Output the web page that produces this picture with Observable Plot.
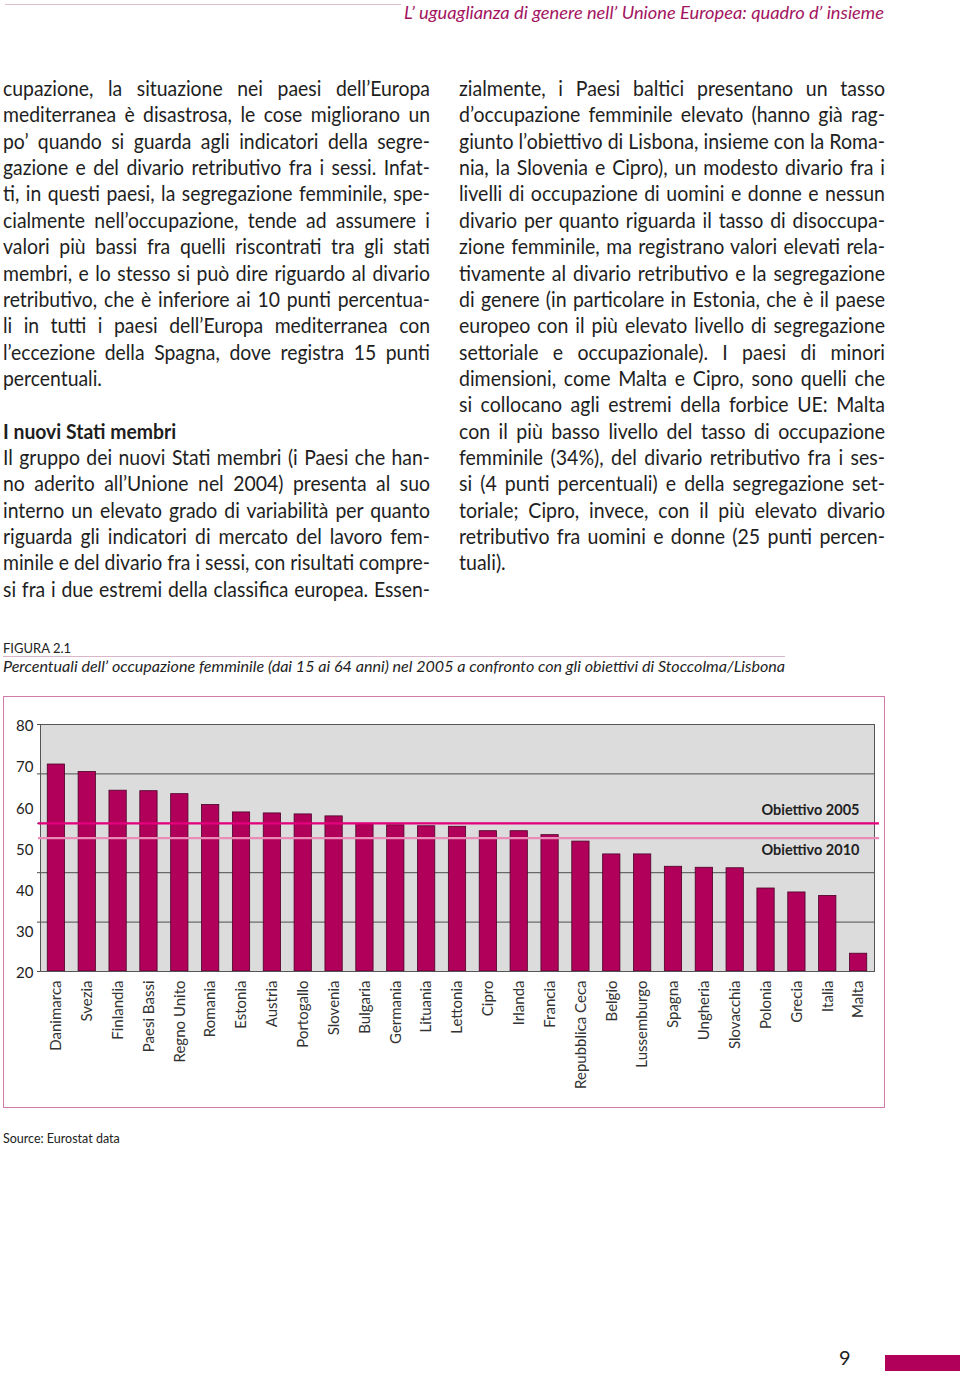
<!DOCTYPE html>
<html><head><meta charset="utf-8">
<script src="https://cdn.jsdelivr.net/npm/d3@7"></script>
<script src="https://cdn.jsdelivr.net/npm/@observablehq/plot@0.6"></script>
<style>
html,body{margin:0;padding:0;background:#fff;}
#page{position:relative;width:960px;height:1373px;overflow:hidden;font-family:Lato,"Open Sans",sans-serif;color:#1e1e1e;}
.abs{position:absolute;}
.col{position:absolute;top:75px;font-size:20.5px;line-height:26.36px;}
.ln{white-space:nowrap;transform-origin:0 0;height:26.36px;}
.j{text-align:justify;text-align-last:justify;}
.h{font-weight:700;}
</style></head>
<body><div id="page">
<div class="abs" style="left:5px;top:4px;width:396px;height:0;border-top:1.5px solid #dcc0cf;"></div>
<div class="abs fit" data-w="480" style="left:404px;top:2px;font-size:17px;font-style:italic;color:#a3155f;white-space:nowrap;transform-origin:0 0;">L’ uguaglianza di genere nell’ Unione Europea: quadro d’ insieme</div>

<div class="col" id="c1" data-w="427" style="left:3px;width:427px;">
<div class="ln j">cupazione, la situazione nei paesi dell’Europa</div>
<div class="ln j">mediterranea è disastrosa, le cose migliorano un</div>
<div class="ln j">po’ quando si guarda agli indicatori della segre-</div>
<div class="ln j">gazione e del divario retributivo fra i sessi. Infat-</div>
<div class="ln j">ti, in questi paesi, la segregazione femminile, spe-</div>
<div class="ln j">cialmente nell’occupazione, tende ad assumere i</div>
<div class="ln j">valori più bassi fra quelli riscontrati tra gli stati</div>
<div class="ln j">membri, e lo stesso si può dire riguardo al divario</div>
<div class="ln j">retributivo, che è inferiore ai 10 punti percentua-</div>
<div class="ln j">li in tutti i paesi dell’Europa mediterranea con</div>
<div class="ln j">l’eccezione della Spagna, dove registra 15 punti</div>
<div class="ln">percentuali.</div>
<div class="ln"></div>
<div class="ln h">I nuovi Stati membri</div>
<div class="ln j">Il gruppo dei nuovi Stati membri (i Paesi che han-</div>
<div class="ln j">no aderito all’Unione nel 2004) presenta al suo</div>
<div class="ln j">interno un elevato grado di variabilità per quanto</div>
<div class="ln j">riguarda gli indicatori di mercato del lavoro fem-</div>
<div class="ln j">minile e del divario fra i sessi, con risultati compre-</div>
<div class="ln j">si fra i due estremi della classifica europea. Essen-</div>
</div>

<div class="col" id="c2" data-w="426" style="left:459px;width:426px;">
<div class="ln j">zialmente, i Paesi baltici presentano un tasso</div>
<div class="ln j">d’occupazione femminile elevato (hanno già rag-</div>
<div class="ln j">giunto l’obiettivo di Lisbona, insieme con la Roma-</div>
<div class="ln j">nia, la Slovenia e Cipro), un modesto divario fra i</div>
<div class="ln j">livelli di occupazione di uomini e donne e nessun</div>
<div class="ln j">divario per quanto riguarda il tasso di disoccupa-</div>
<div class="ln j">zione femminile, ma registrano valori elevati rela-</div>
<div class="ln j">tivamente al divario retributivo e la segregazione</div>
<div class="ln j">di genere (in particolare in Estonia, che è il paese</div>
<div class="ln j">europeo con il più elevato livello di segregazione</div>
<div class="ln j">settoriale e occupazionale). I paesi di minori</div>
<div class="ln j">dimensioni, come Malta e Cipro, sono quelli che</div>
<div class="ln j">si collocano agli estremi della forbice UE: Malta</div>
<div class="ln j">con il più basso livello del tasso di occupazione</div>
<div class="ln j">femminile (34%), del divario retributivo fra i ses-</div>
<div class="ln j">si (4 punti percentuali) e della segregazione set-</div>
<div class="ln j">toriale; Cipro, invece, con il più elevato divario</div>
<div class="ln j">retributivo fra uomini e donne (25 punti percen-</div>
<div class="ln">tuali).</div>
</div>

<div class="abs" style="left:3px;top:640px;font-size:13px;color:#222;">FIGURA 2.1</div>
<div class="abs" style="left:3px;top:656px;width:782px;height:0;border-top:1px solid #dbb6ca;"></div>
<div class="abs fit" data-w="782" style="left:3px;top:657px;font-size:15.5px;font-style:italic;color:#1e1e1e;white-space:nowrap;transform-origin:0 0;">Percentuali dell’ occupazione femminile (dai 15 ai 64 anni) nel 2005 a confronto con gli obiettivi di Stoccolma/Lisbona</div>

<div class="abs" style="left:3px;top:696px;width:882px;height:412px;border:1.5px solid #d27aa8;box-sizing:border-box;"></div>
<div class="abs" id="chart" style="left:0;top:697px;"></div>

<div class="abs" style="left:3px;top:1131px;font-size:12.5px;color:#222;">Source: Eurostat data</div>
<div class="abs" style="left:839px;top:1347px;font-size:20px;line-height:20px;color:#222;">9</div>
<div class="abs" style="left:885px;top:1355px;width:75px;height:16px;background:#b0005a;"></div>
</div>
<script>
const countries = ["Danimarca","Svezia","Finlandia","Paesi Bassi","Regno Unito","Romania","Estonia","Austria","Portogallo","Slovenia","Bulgaria","Germania","Lituania","Lettonia","Cipro","Irlanda","Francia","Repubblica Ceca","Belgio","Lussemburgo","Spagna","Ungheria","Slovacchia","Polonia","Grecia","Italia","Malta"];
const employmentRate = [71.9,70.4,66.6,66.5,65.9,63.7,62.2,62.0,61.8,61.4,59.8,59.6,59.4,59.3,58.4,58.4,57.6,56.3,53.7,53.7,51.2,51.0,50.9,46.8,46.0,45.3,33.6];
const targetLabels = ["Obiettivo 2005","Obiettivo 2010"];
const targetValues = [60,57];
const gridValues = [30,40,50,60,70,80];
const yTickLabels = ["80","70","60","50","40","30","20"];
const yDomain = [30,80];

const data = countries.map((c,i)=>({country:c, value:employmentRate[i]}));
const targets = targetLabels.map((label,i)=>({label, value:targetValues[i]}));
const tickPos = yTickLabels.map((_,i)=> yDomain[1] - i*(yDomain[1]-yDomain[0])/(yTickLabels.length-1));
const tickMap = new Map(tickPos.map((p,i)=>[p, yTickLabels[i]]));

const chart = Plot.plot({
  width:885, height:411, marginLeft:40, marginRight:11, marginTop:27, marginBottom:137,
  style:{fontFamily:"Lato, sans-serif", background:"transparent", color:"#222"},
  x:{domain:countries, paddingInner:0.44, paddingOuter:0.235, round:false},
  y:{domain:yDomain},
  marks:[
    Plot.frame({fill:"#dcdcdd", stroke:null}),
    Plot.ruleY(gridValues, {stroke:"#4d4d4d", strokeWidth:1, insetLeft:-3}),
    Plot.barY(data, {x:"country", y1:yDomain[0], y2:"value", fill:"#b0005a", stroke:"#4a0026", strokeWidth:0.8}),
    Plot.frame({stroke:"#555", strokeWidth:1}),
    Plot.ruleY(targets.slice(1), {y:"value", stroke:"#ea8ab6", strokeWidth:2.2, insetLeft:-2, insetRight:-5}),
    Plot.ruleY(targets.slice(0,1), {y:"value", stroke:"#e4007c", strokeWidth:2.2, insetLeft:-2, insetRight:-5}),
    Plot.text(targets.slice(0,1), {y:"value", text:"label", frameAnchor:"right", textAnchor:"end", dx:-15, dy:-13, fontWeight:700, fontSize:14.5, fill:"#222"}),
    Plot.text(targets.slice(1), {y:"value", text:"label", frameAnchor:"right", textAnchor:"end", dx:-15, dy:12, fontWeight:700, fontSize:14.5, fill:"#222"}),
    Plot.axisY({ticks:tickPos, tickFormat:d=>tickMap.get(d), tickSize:0, tickPadding:7, fontSize:15, label:null, dy:2}),
    Plot.axisX({tickRotate:-90, tickSize:0, tickPadding:9, fontSize:15, label:null, fill:"#333"})
  ]
});
document.getElementById("chart").appendChild(chart);

function layout(){
  document.querySelectorAll(".col").forEach(col=>{
    const W = +col.dataset.w;
    const lines = [...col.querySelectorAll(".ln")];
    let s = 1;
    lines.forEach(l=>{ l.style.display="inline-block"; l.style.width="auto"; l.style.transform="none"; });
    const nat = lines.map(l=>l.getBoundingClientRect().width);
    lines.forEach((l,i)=>{ if(l.classList.contains("j") && nat[i]>0) s = Math.min(s, W/nat[i]); });
    lines.forEach(l=>{ l.style.display="block"; l.style.width=(W/s)+"px"; l.style.transform=`scaleX(${s})`; });
  });
  document.querySelectorAll(".fit").forEach(el=>{
    const W = +el.dataset.w;
    el.style.transform="none";
    const w = el.getBoundingClientRect().width;
    el.style.transform=`scaleX(${W/w})`;
  });
}
layout();
if (document.fonts && document.fonts.ready) document.fonts.ready.then(layout);
</script>
</body></html>
